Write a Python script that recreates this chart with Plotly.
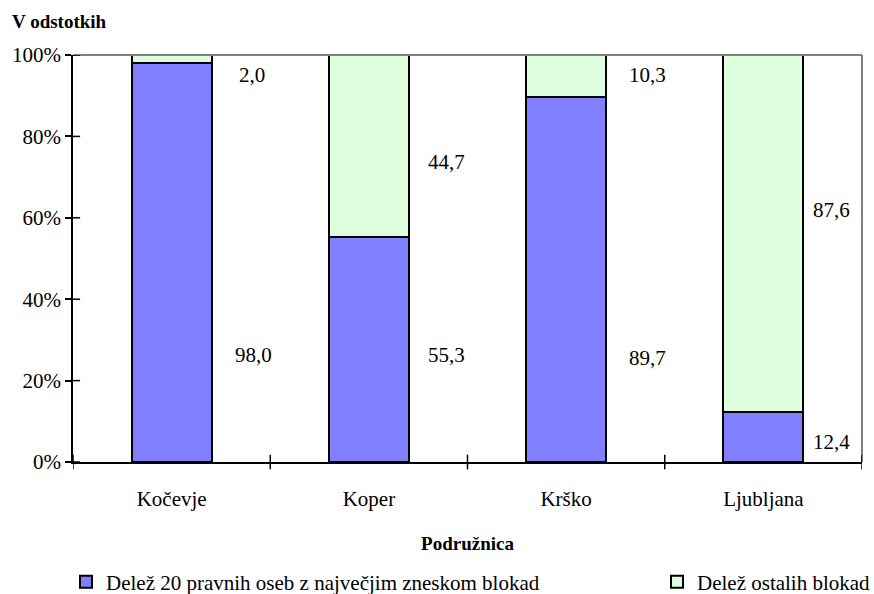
import plotly.graph_objects as go

# Data
branches = ["Kočevje", "Koper", "Krško", "Ljubljana"]
top20_share = [98.0, 55.3, 89.7, 12.4]
other_share = [2.0, 44.7, 10.3, 87.6]
y_ticks = [0, 20, 40, 60, 80, 100]
y_tick_labels = ["0%", "20%", "40%", "60%", "80%", "100%"]

# Label placement (x in category units, y in percent)
top20_label_x = [0.31, 1.29, 2.31, 3.24]
top20_label_y = [26.3, 26.3, 25.5, 4.9]
other_label_x = [0.33, 1.29, 2.31, 3.24]
other_label_y = [95.1, 73.7, 95.1, 61.9]

FONT = "Liberation Serif"
BLUE = "#8080FF"
GREEN = "#DDFFDD"
FS = 21

fig = go.Figure()
fig.add_trace(go.Bar(
    x=branches, y=top20_share, name="Delež 20 pravnih oseb z največjim zneskom blokad",
    marker=dict(color=BLUE, line=dict(color="black", width=2)),
    width=0.405, legend="legend", showlegend=True,
))
fig.add_trace(go.Bar(
    x=branches, y=other_share, name="Delež ostalih blokad",
    marker=dict(color=GREEN, line=dict(color="black", width=2)),
    width=0.405, legend="legend2", showlegend=True,
))

PW, PH, L, T = 789, 407, 73, 55

annotations = []
for i in range(len(branches)):
    annotations.append(dict(
        x=top20_label_x[i], y=top20_label_y[i], xref="x", yref="y",
        text=f"{top20_share[i]:.1f}".replace(".", ","), showarrow=False,
        xanchor="left", yanchor="middle", font=dict(family=FONT, size=FS, color="black"),
    ))
    annotations.append(dict(
        x=other_label_x[i], y=other_label_y[i], xref="x", yref="y",
        text=f"{other_share[i]:.1f}".replace(".", ","), showarrow=False,
        xanchor="left", yanchor="middle", font=dict(family=FONT, size=FS, color="black"),
    ))

annotations.append(dict(
    x=(10 - L) / PW, y=1 + (T - 22) / PH, xref="paper", yref="paper",
    text="<b>V odstotkih</b>", showarrow=False,
    font=dict(family=FONT, size=19, color="black"), xanchor="left", yanchor="middle",
))

legend_style = dict(yref="paper", xref="paper", xanchor="left", yanchor="middle",
                    orientation="h", font=dict(family=FONT, size=FS, color="black"),
                    itemwidth=30, bgcolor="rgba(0,0,0,0)")

fig.update_layout(
    width=874, height=594,
    margin=dict(l=L, r=874 - L - PW, t=T, b=594 - T - PH, autoexpand=False),
    barmode="stack",
    plot_bgcolor="white", paper_bgcolor="white",
    font=dict(family=FONT, size=FS, color="black"),
    annotations=annotations,
    legend=dict(x=(66 - L) / PW, y=-(582 - 462) / PH, **legend_style),
    legend2=dict(x=(657 - L) / PW, y=-(582 - 462) / PH, **legend_style),
    xaxis=dict(
        range=[-0.5, 3.5], showline=True, linecolor="black", linewidth=1.5,
        ticks="", tickfont=dict(family=FONT, size=FS), ticklabelstandoff=17,
        title=dict(text="<b>Podružnica</b>", font=dict(family=FONT, size=19), standoff=27),
        showgrid=False, zeroline=False,
    ),
    yaxis=dict(
        range=[0, 100], tickvals=y_ticks, ticktext=y_tick_labels,
        showline=True, linecolor="black", linewidth=1.5,
        ticks="outside", ticklen=6, tickcolor="black", tickwidth=1.5,
        showgrid=False, zeroline=False, tickfont=dict(family=FONT, size=FS),
    ),
)

# Grey top/right frame, boundary ticks across the x axis, inner halves of y ticks
shapes = [
    dict(type="line", xref="paper", yref="paper", x0=0, x1=1, y0=1, y1=1,
         line=dict(color="#808080", width=2)),
    dict(type="line", xref="paper", yref="paper", x0=1, x1=1, y0=0, y1=1,
         line=dict(color="#808080", width=2)),
]
for b in [-0.5, 0.5, 1.5, 2.5, 3.5]:
    shapes.append(dict(type="line", xref="x", yref="paper", x0=b, x1=b, y0=-0.018, y1=0.018,
                       line=dict(color="black", width=1.5)))
for t in y_ticks:
    shapes.append(dict(type="line", xref="paper", yref="y", x0=0, x1=0.009, y0=t, y1=t,
                       line=dict(color="black", width=1.5)))
fig.update_layout(shapes=shapes)

fig.write_html("out.html")
